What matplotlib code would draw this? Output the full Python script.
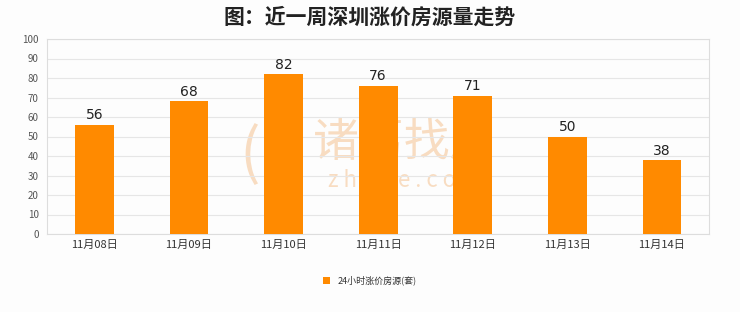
import matplotlib
matplotlib.use('Agg')
import matplotlib.pyplot as plt

plt.rcParams['font.family'] = ['Noto Sans CJK SC', 'DejaVu Sans']

# data
dates = ['11月08日', '11月09日', '11月10日', '11月11日', '11月12日', '11月13日', '11月14日']
counts = [56, 68, 82, 76, 71, 50, 38]
series_name = '24小时涨价房源(套)'

fig = plt.figure(figsize=(7.4, 3.12), dpi=100, facecolor='#fdfdfd')
ax = fig.add_axes([0.0635, 0.25, 0.895, 0.625])
ax.set_facecolor('#fdfdfd')

x = range(len(dates))
bars = ax.bar(x, counts, width=0.41, color='#ff8a00', label=series_name, zorder=3)

for b, v in zip(bars, counts):
    ax.text(b.get_x() + b.get_width() / 2, v + 1.2, str(v), ha='center', va='bottom',
            fontsize=10, color='#222222', family='DejaVu Sans', zorder=4)

ax.set_xlim(-0.5, len(dates) - 0.5)
ax.set_ylim(0, 100)
ax.set_yticks(range(0, 101, 10))
ax.set_xticks(list(x))
ax.set_xticklabels(dates, fontsize=8, color='#333333')
ax.tick_params(axis='y', labelsize=7, colors='#555555', length=0, pad=6)
ax.tick_params(axis='x', length=0, pad=4)
ax.grid(axis='y', color='#e6e6e6', linewidth=0.8, zorder=0)
for s in ax.spines.values():
    s.set_color('#dddddd')
    s.set_linewidth(0.8)

# watermark, sits behind the bars
ax.text(0.547, 0.542, '诸葛找房', transform=fig.transFigure, fontsize=33, color='#f6cfa8',
        alpha=0.7, ha='center', va='center', zorder=1)
ax.text(0.547, 0.423, 'z h u g e . c o m', transform=fig.transFigure, fontsize=16,
        color='#f6cfa8', alpha=0.7, ha='center', va='center', zorder=1)
ax.text(0.338, 0.5, '(', transform=fig.transFigure, fontsize=44, color='#f6cfa8',
        alpha=0.7, ha='center', va='center', zorder=1)

fig.text(0.5, 0.945, '图：近一周深圳涨价房源量走势', fontsize=15, fontweight='semibold',
         color='#222222', ha='center', va='center')

fig.legend(loc='center', bbox_to_anchor=(0.5, 0.1), frameon=False, fontsize=6.5,
           handlelength=0.8, handleheight=0.8, labelcolor='#333333')

fig.savefig('out.png', dpi=100, facecolor=fig.get_facecolor())
